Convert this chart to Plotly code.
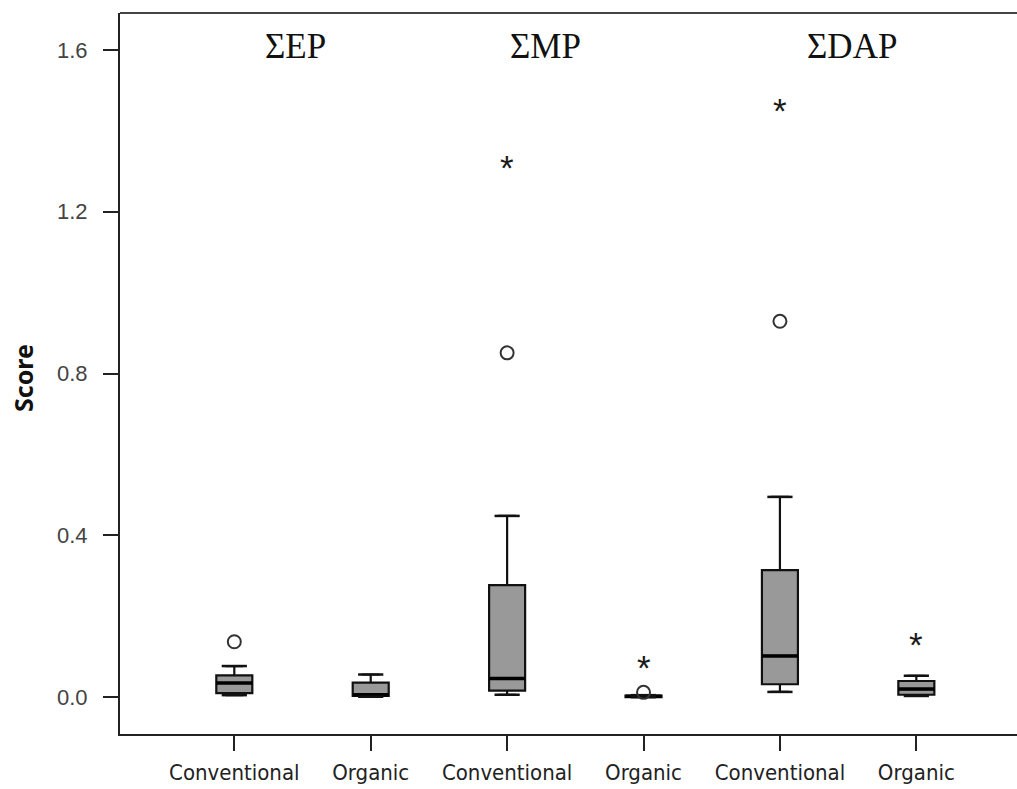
import plotly.graph_objects as go

# ---- data ----
tick_labels = ["Conventional", "Organic", "Conventional", "Organic", "Conventional", "Organic"]
groups = ["ΣEP", "ΣMP", "ΣDAP"]

q1 = [0.010, 0.003, 0.016, 0.000, 0.032, 0.006]
median = [0.035, 0.006, 0.046, 0.002, 0.102, 0.020]
q3 = [0.054, 0.036, 0.277, 0.004, 0.314, 0.040]
lower_whisker = [0.005, 0.001, 0.006, 0.000, 0.013, 0.003]
upper_whisker = [0.077, 0.056, 0.448, 0.005, 0.495, 0.053]

# outliers: circles (mild) and stars (extreme)
circle_cat = [0, 2, 3, 4]
circle_val = [0.137, 0.851, 0.012, 0.929]
star_cat = [2, 3, 4, 5]
star_val = [1.318, 0.083, 1.459, 0.139]

# group title positions (category units)
group_x = [0.45, 2.28, 4.53]
group_y = 1.607

# ---- styling ----
BOX_W = 0.264
CAP_SIZE = 18
FILL = "#999999"
LINE = "#111111"
STAR_SIZE = 35

fig = go.Figure()
xs = list(range(len(tick_labels)))

for i in xs:
    fig.add_trace(go.Box(
        x=[i], q1=[q1[i]], median=[median[i]], q3=[q3[i]],
        lowerfence=[lower_whisker[i]], upperfence=[upper_whisker[i]],
        width=BOX_W, fillcolor=FILL, line=dict(color=LINE, width=2.2),
        boxpoints=False, showlegend=False, hoverinfo="skip",
    ))
    # thicker median line
    fig.add_trace(go.Scatter(
        x=[i - BOX_W / 2, i + BOX_W / 2], y=[median[i], median[i]],
        mode="lines", line=dict(color="#000000", width=3.5),
        showlegend=False, hoverinfo="skip",
    ))

# whisker caps
fig.add_trace(go.Scatter(
    x=xs + xs, y=upper_whisker + lower_whisker, mode="markers",
    marker=dict(symbol="line-ew", size=CAP_SIZE, line=dict(color=LINE, width=2.5)),
    showlegend=False, hoverinfo="skip",
))

# mild outliers
fig.add_trace(go.Scatter(
    x=circle_cat, y=circle_val, mode="markers",
    marker=dict(symbol="circle-open", size=13, color="#333333", line=dict(width=2)),
    showlegend=False, hoverinfo="skip",
))

# extreme outliers (asterisks)
for sx, sy in zip(star_cat, star_val):
    fig.add_annotation(
        x=sx, y=sy, xref="x", yref="y", text="*", showarrow=False,
        xanchor="center", yanchor="middle", yshift=-0.1 * STAR_SIZE,
        font=dict(family="Liberation Sans, Arial, sans-serif", size=STAR_SIZE, color="#1a1a1a"),
    )

for gx, g in zip(group_x, groups):
    fig.add_annotation(
        x=gx, y=group_y, xref="x", yref="y", text=g, showarrow=False,
        xanchor="center", yanchor="middle",
        font=dict(family="Liberation Serif, Times New Roman, serif", size=35, color="#111111"),
    )

fig.add_annotation(
    x=-0.108, y=0.494, xref="paper", yref="paper", text="<b>Score</b>",
    textangle=-90, showarrow=False, xanchor="center", yanchor="middle",
    font=dict(family="Noto Sans, Open Sans, sans-serif", size=25, color="#111111"),
)

fig.add_shape(type="line", xref="paper", yref="paper", x0=0, x1=1, y0=1, y1=1,
              line=dict(color="#444444", width=2))

fig.update_layout(
    width=1017, height=789,
    margin=dict(l=120, r=0, t=13, b=55),
    paper_bgcolor="white", plot_bgcolor="white",
    xaxis=dict(
        range=[-0.838, 5.738], tickmode="array", tickvals=xs, ticktext=tick_labels,
        showgrid=False, zeroline=False, showline=True, linecolor="#222222", linewidth=2,
        ticks="outside", ticklen=15, tickwidth=2, tickcolor="#222222",
        ticklabelstandoff=3,
        tickfont=dict(family="Liberation Sans Narrow, Arial Narrow, DejaVu Sans Condensed, sans-serif",
                      size=22, color="#222222"),
    ),
    yaxis=dict(
        range=[-0.091, 1.691], tickmode="array", tickvals=[0.0, 0.4, 0.8, 1.2, 1.6],
        ticktext=["0.0", "0.4", "0.8", "1.2", "1.6"],
        showgrid=False, zeroline=False, showline=True, linecolor="#222222", linewidth=2,
        ticks="outside", ticklen=15, tickwidth=2, tickcolor="#222222",
        ticklabelstandoff=11,
        tickfont=dict(family="Liberation Sans, Arial, sans-serif", size=22, color="#444444"),
    ),
)

fig.write_html("out.html", config={"displayModeBar": False},
               post_script="document.body.style.margin='0';")
